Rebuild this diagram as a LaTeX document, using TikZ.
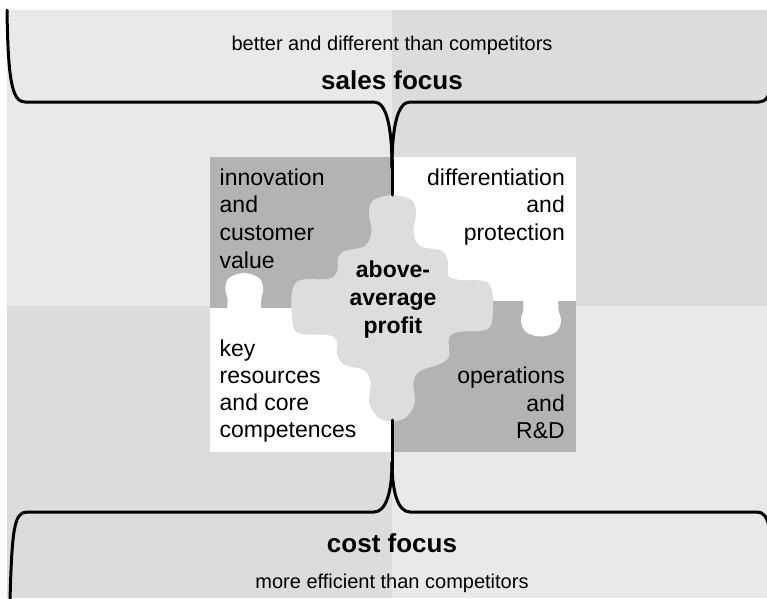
\documentclass[tikz,border=0pt]{standalone}
\usepackage{fontspec}
\setmainfont{Liberation Sans}
\definecolor{bglight}{HTML}{E9E9E9}
\definecolor{bgdark}{HTML}{DCDCDC}
\definecolor{piecedark}{HTML}{B3B3B3}
\definecolor{piececenter}{HTML}{DDDDDD}
\begin{document}
\begin{tikzpicture}[x=1pt,y=-1pt,
  bracket/.style={line width=3pt, line cap=round, line join=round},
  subtxt/.style={inner sep=0pt, anchor=base, font=\fontsize{20}{24}\selectfont},
  focustxt/.style={inner sep=0pt, anchor=base, font=\fontsize{26}{31}\selectfont\bfseries},
  ltxt/.style={inner sep=0pt, anchor=base west, font=\fontsize{23}{27.6}\selectfont},
  rtxt/.style={inner sep=0pt, anchor=base east, font=\fontsize{23}{27.6}\selectfont},
  ctxt/.style={inner sep=0pt, anchor=base, font=\fontsize{23}{27.6}\selectfont\bfseries}]
\useasboundingbox (0,0) rectangle (767,598);
\clip (0,0) rectangle (767,598);
% background quadrants
\fill[bglight] (7,10) rectangle (392,306);
\fill[bgdark] (392,10) rectangle (767,306);
\fill[bgdark] (7,306) rectangle (392,598);
\fill[bglight] (392,306) rectangle (767,598);
% puzzle quadrants
\fill[piecedark] (210,157) rectangle (392,308);
\fill[white] (392,157) rectangle (576,301);
\fill[white] (210,308) rectangle (392,451.5);
\fill[piecedark] (392,301) rectangle (576,451.5);
% tabs
\fill[white] plot[smooth, tension=0.6] coordinates {(227,309) (227.5,299) (225.3,288) (229,278) (244,273) (259,278) (263.2,288) (261.3,299) (261.3,309)} -- cycle;
\fill[white] plot[smooth, tension=0.6] coordinates {(523.2,300) (523.3,310) (521,321) (526,332) (541,336.5) (556,332) (561,321) (558.5,310) (558.5,300)} -- cycle;
% centre piece
\fill[piececenter] plot[smooth cycle, tension=0.55] coordinates {
 (392.5,195) (412,200.5) (416,214) (413.5,232) (420,246) (442,251) (448,262)
 (448.5,276) (460,280) (484,281) (492,290) (493,313) (490,327) (480,331)
 (458,332) (449,338) (449,356) (440,364) (420,371) (413.5,382) (414.5,404)
 (405,418) (392,421) (379,418) (369.5,404) (370.5,382) (364,370) (345,365)
 (337,355) (337,341) (328,335) (302,334) (293,326) (292,292) (301,280)
 (328,279) (337,272) (338,258) (345,251) (365,246) (371.5,232) (369,214) (373,200.5)};
% brackets
\coordinate (tl) at (7,10);
\coordinate (tr) at (777,10);
\coordinate (tcusp) at (392,168);
\coordinate (ttop) at (392,195);
\coordinate (bl) at (10,600);
\coordinate (br) at (774,600);
\coordinate (bcusp) at (392,462);
\coordinate (bbot) at (392,420);
\draw[bracket] (tl) .. controls (8,80) and (12,102) .. (25,102) -- (374,102) .. controls (386,102) and (392,125) .. (tcusp);
\draw[bracket] (tr) .. controls (776,80) and (772,102) .. (759,102) -- (410,102) .. controls (398,102) and (392,125) .. (tcusp);
\draw[bracket] (392,160) -- (ttop);
\draw[bracket] (bl) .. controls (12,530) and (14,512) .. (27,512) -- (374,512) .. controls (386,512) and (392,492) .. (bcusp);
\draw[bracket] (br) .. controls (772,530) and (770,512) .. (757,512) -- (410,512) .. controls (398,512) and (392,492) .. (bcusp);
\draw[bracket] (392,470) -- (bbot);
% texts
\node[subtxt] (sub1) at (392,50) {better and different than competitors};
\node[focustxt] (sales) at (392,89) {sales focus};
\node[focustxt] (cost) at (392,552) {cost focus};
\node[subtxt] (sub2) at (392,588) {more efficient than competitors};
\node[ltxt] (tl1) at (219.5,185) {innovation};
\node[ltxt] (tl2) at (219.5,212.7) {and};
\node[ltxt] (tl3) at (219.5,240.4) {customer};
\node[ltxt] (tl4) at (219.5,268) {value};
\node[rtxt] (tr1) at (565,185) {differentiation};
\node[rtxt] (tr2) at (565,212.7) {and};
\node[rtxt] (tr3) at (565,240.4) {protection};
\node[ltxt] (bl1) at (219.5,356) {key};
\node[ltxt] (bl2) at (219.5,383) {resources};
\node[ltxt] (bl3) at (219.5,410) {and core};
\node[ltxt] (bl4) at (219.5,437) {competences};
\node[rtxt] (br1) at (565,383.5) {operations};
\node[rtxt] (br2) at (565,411) {and};
\node[rtxt] (br3) at (565,438.5) {R\&D};
\node[ctxt] (c1) at (393,277.5) {above-};
\node[ctxt] (c2) at (393,305) {average};
\node[ctxt] (c3) at (393,333) {profit};
\end{tikzpicture}
\end{document}
